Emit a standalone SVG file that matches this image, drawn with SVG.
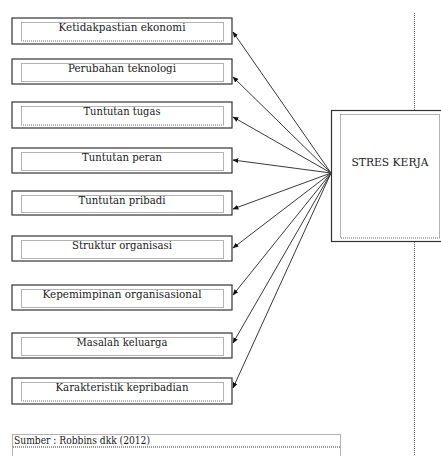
<svg xmlns="http://www.w3.org/2000/svg" width="441" height="456" viewBox="0 0 441 456">
<defs>
<style>
.box{fill:#fff;stroke:#333;stroke-width:1.2}
.dot{fill:none;stroke:#666;stroke-width:1;stroke-dasharray:1 1}
.dot2{fill:none;stroke:#777;stroke-width:1.6;stroke-dasharray:1 1}
.t{font-family:"DejaVu Serif","Liberation Serif",serif;font-size:10.5px;fill:#1a1a1a;text-anchor:middle}
.c{stroke:#3a3a3a;stroke-width:1;fill:none;marker-end:url(#ah)}
</style>
<marker id="ah" viewBox="0 0 10 10" refX="9" refY="5" markerWidth="6" markerHeight="6" orient="auto" markerUnits="userSpaceOnUse">
<path d="M0,1 L10,5 L0,9 Z" fill="#111"/>
</marker>
</defs>
<rect width="441" height="456" fill="#fff"/>
<g id="connectors">
<line class="c" x1="331" y1="173" x2="233" y2="32"/>
<line class="c" x1="331" y1="173" x2="233" y2="77"/>
<line class="c" x1="331" y1="173" x2="233" y2="117"/>
<line class="c" x1="331" y1="173" x2="233" y2="160"/>
<line class="c" x1="331" y1="173" x2="233" y2="209"/>
<line class="c" x1="331" y1="173" x2="233" y2="248"/>
<line class="c" x1="331" y1="173" x2="233" y2="295"/>
<line class="c" x1="331" y1="173" x2="233" y2="343"/>
<line class="c" x1="331" y1="173" x2="233" y2="388"/>
</g>
<g id="divider">
<line x1="414.5" y1="13" x2="414.5" y2="111" class="dot"/>
<line x1="414.5" y1="242" x2="414.5" y2="456" class="dot"/>
</g>
<g id="n1">
<rect class="box" x="12" y="18" width="220" height="26"/>
<rect class="dot" x="21.5" y="22.5" width="202" height="18.5"/>
<text class="t" x="122" y="31" textLength="127" lengthAdjust="spacingAndGlyphs">Ketidakpastian ekonomi</text>
</g>
<g id="n2">
<rect class="box" x="12" y="59" width="220" height="25"/>
<rect class="dot" x="21.5" y="63.5" width="202" height="18"/>
<text class="t" x="122" y="72" textLength="108" lengthAdjust="spacingAndGlyphs">Perubahan teknologi</text>
</g>
<g id="n3">
<rect class="box" x="12" y="102" width="220" height="26"/>
<rect class="dot" x="21.5" y="106.5" width="202" height="18.5"/>
<text class="t" x="122" y="115" textLength="77" lengthAdjust="spacingAndGlyphs">Tuntutan tugas</text>
</g>
<g id="n4">
<rect class="box" x="12" y="148" width="220" height="25"/>
<rect class="dot" x="21.5" y="152.5" width="202" height="18"/>
<text class="t" x="122" y="161" textLength="80" lengthAdjust="spacingAndGlyphs">Tuntutan peran</text>
</g>
<g id="n5">
<rect class="box" x="12" y="191" width="220" height="24"/>
<rect class="dot" x="21.5" y="195.5" width="202" height="17"/>
<text class="t" x="122" y="204" textLength="87" lengthAdjust="spacingAndGlyphs">Tuntutan pribadi</text>
</g>
<g id="n6">
<rect class="box" x="12" y="236" width="220" height="25"/>
<rect class="dot" x="21.5" y="240.5" width="202" height="18"/>
<text class="t" x="122" y="249" textLength="100" lengthAdjust="spacingAndGlyphs">Struktur organisasi</text>
</g>
<g id="n7">
<rect class="box" x="12" y="285" width="220" height="25"/>
<rect class="dot" x="21.5" y="289.5" width="202" height="18"/>
<text class="t" x="122" y="298" textLength="159" lengthAdjust="spacingAndGlyphs">Kepemimpinan organisasional</text>
</g>
<g id="n8">
<rect class="box" x="12" y="333" width="220" height="25"/>
<rect class="dot" x="21.5" y="337.5" width="202" height="18"/>
<text class="t" x="122" y="346" textLength="91" lengthAdjust="spacingAndGlyphs">Masalah keluarga</text>
</g>
<g id="n9">
<rect class="box" x="12" y="378" width="220" height="26"/>
<rect class="dot" x="21.5" y="382.5" width="202" height="18.5"/>
<text class="t" x="122" y="391" textLength="133" lengthAdjust="spacingAndGlyphs">Karakteristik kepribadian</text>
</g>
<g id="stres">
<rect class="box" x="331.5" y="110.5" width="112" height="131"/>
<rect class="dot" x="340.5" y="114.5" width="99" height="123.5"/>
<text class="t" x="390" y="166" textLength="77" lengthAdjust="spacingAndGlyphs">STRES KERJA</text>
</g>
<g id="sumber">
<rect class="dot" x="12.5" y="434.5" width="328" height="40"/>
<line class="dot2" x1="13" y1="447" x2="340" y2="447"/>
<text class="t" x="14" y="444" style="text-anchor:start" textLength="136" lengthAdjust="spacingAndGlyphs">Sumber : Robbins dkk (2012)</text>
</g>
</svg>
